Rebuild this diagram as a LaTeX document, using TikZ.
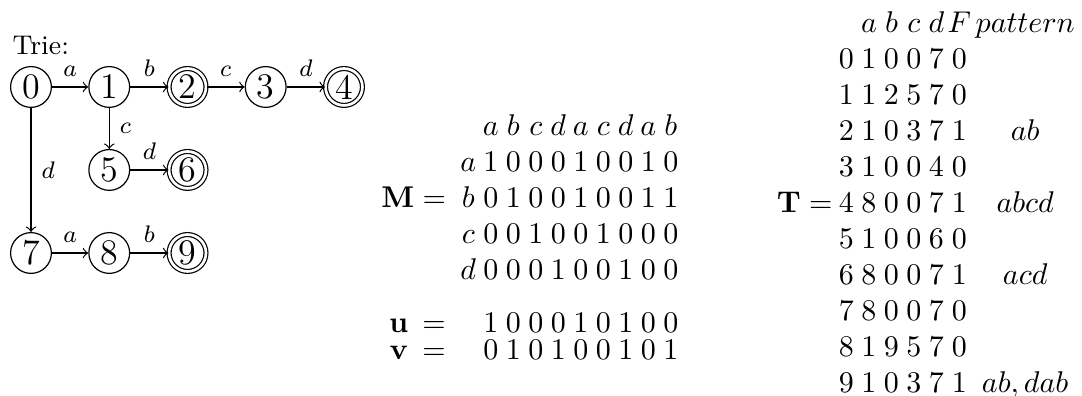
\documentclass[tikz,border=0pt]{standalone}
\usepackage{amssymb}
\usepackage{tikz}
\usetikzlibrary{matrix, positioning}

\begin{document}
\begin{tikzpicture}[
      lbl/.style={font=\footnotesize},
      trie_node/.style={circle, draw, inner sep=0pt, minimum size=13.6pt, font=\large},
      final_node/.style={trie_node, double, double distance=0.9pt, minimum size=12.3pt},
      cell/.style={inner sep=0pt, minimum width=7.5pt, minimum height=12pt, text height=6.94pt, text depth=0pt},
      eq_lbl/.style={inner sep=0pt, text height=6.94pt, text depth=0pt}
  ]

  \useasboundingbox (0, 0) rectangle (12.676, 4.639);

  % 1. Trie
  \node[anchor=base west, inner sep=0pt, font=\small] (title) at (0.141, 3.995) {Trie:};

  \node[trie_node]  (n0) at (0.363, 3.620) {0};
  \node[trie_node]  (n1) at (1.280, 3.620) {1};
  \node[final_node] (n2) at (2.197, 3.620) {2};
  \node[trie_node]  (n3) at (3.113, 3.620) {3};
  \node[final_node] (n4) at (4.030, 3.620) {4};
  \node[trie_node]  (n5) at (1.280, 2.648) {5};
  \node[final_node] (n6) at (2.197, 2.648) {6};
  \node[trie_node]  (n7) at (0.363, 1.675) {7};
  \node[trie_node]  (n8) at (1.280, 1.675) {8};
  \node[final_node] (n9) at (2.197, 1.675) {9};

  \draw[->] (n0) -- node[lbl, above] {$a$} (n1);
  \draw[->] (n1) -- node[lbl, above] {$b$} (n2);
  \draw[->] (n2) -- node[lbl, above] {$c$} (n3);
  \draw[->] (n3) -- node[lbl, above] {$d$} (n4);
  \draw[->] (n1) -- node[lbl, right] {$c$} (n5);
  \draw[->] (n5) -- node[lbl, above] {$d$} (n6);
  \draw[->] (n0) -- node[lbl, right] {$d$} (n7);
  \draw[->] (n7) -- node[lbl, above] {$a$} (n8);
  \draw[->] (n8) -- node[lbl, above] {$b$} (n9);

  % 2. Matrice M
  \matrix (Mmat) [matrix of math nodes, nodes={cell}, inner sep=0pt] at (6.672, 2.331) {
      & a & b & c & d & a & c & d & a & b \\
    a & 1 & 0 & 0 & 0 & 1 & 0 & 0 & 1 & 0 \\
    b & 0 & 1 & 0 & 0 & 1 & 0 & 0 & 1 & 1 \\
    c & 0 & 0 & 1 & 0 & 0 & 1 & 0 & 0 & 0 \\
    d & 0 & 0 & 0 & 1 & 0 & 0 & 1 & 0 & 0 \\
  };
  \node[eq_lbl, left=3.3pt of Mmat-3-1] (Mlbl) {$\mathbf{M} =$};

  % 3. Vettori u e v
  \matrix (UVmat) [matrix of math nodes, nodes={cell, minimum height=9pt}, inner sep=0pt] at (6.806, 0.703) {
    1 & 0 & 0 & 0 & 1 & 0 & 1 & 0 & 0 \\
    0 & 1 & 0 & 1 & 0 & 0 & 1 & 0 & 1 \\
  };
  \node[eq_lbl, left=10.9pt of UVmat-1-1] (ueq) {$=$};
  \node[eq_lbl, left=4.3pt of ueq] (ulbl) {$\mathbf{u}$};
  \node[eq_lbl, left=10.9pt of UVmat-2-1] (veq) {$=$};
  \node[eq_lbl, left=4.3pt of veq] (vlbl) {$\mathbf{v}$};

  % 4. Tabella T
  \matrix (Tmat) [matrix of math nodes, nodes={cell}, inner sep=0pt,
      column 7/.style={nodes={minimum width=36pt}}] at (11.214, 2.267) {
      & a & b & c & d & F & pattern \\
    0 & 1 & 0 & 0 & 7 & 0 & \\
    1 & 1 & 2 & 5 & 7 & 0 & \\
    2 & 1 & 0 & 3 & 7 & 1 & ab \\
    3 & 1 & 0 & 0 & 4 & 0 & \\
    4 & 8 & 0 & 0 & 7 & 1 & abcd \\
    5 & 1 & 0 & 0 & 6 & 0 & \\
    6 & 8 & 0 & 0 & 7 & 1 & acd \\
    7 & 8 & 0 & 0 & 7 & 0 & \\
    8 & 1 & 9 & 5 & 7 & 0 & \\
    9 & 1 & 0 & 3 & 7 & 1 & ab, dab \\
  };
  \node[eq_lbl, left=0.5pt of Tmat-6-1] (Tlbl) {$\mathbf{T} =$};

\end{tikzpicture}
\end{document}
